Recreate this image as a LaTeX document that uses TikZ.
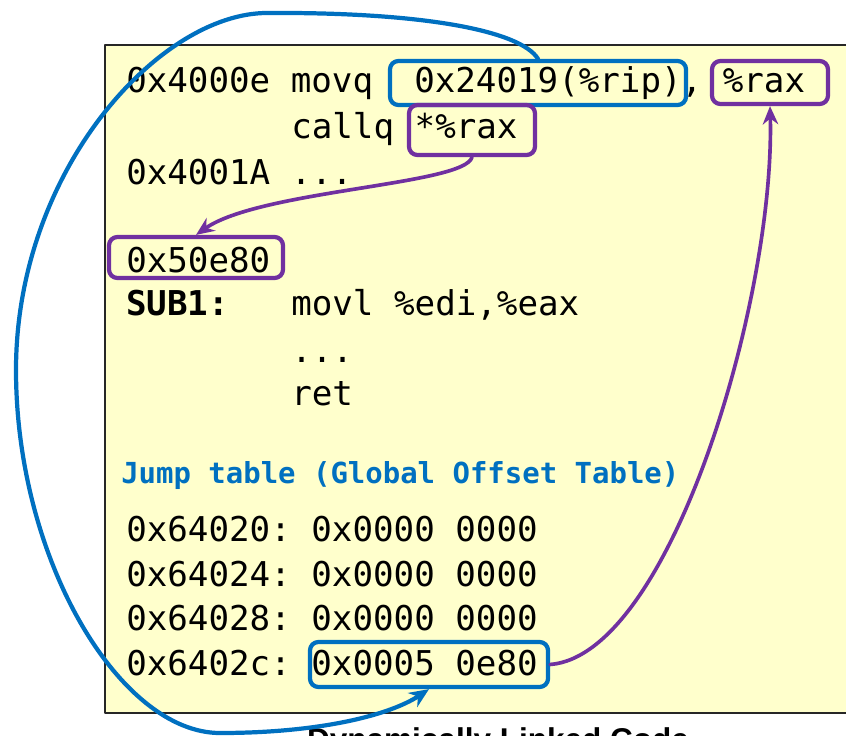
\documentclass[tikz,border=0pt]{standalone}
\usepackage{fontspec}
\setmainfont{Liberation Sans}
\setmonofont{DejaVu Sans Mono}
\usetikzlibrary{arrows.meta}
\definecolor{gotblue}{HTML}{0070C0}
\definecolor{callpurple}{HTML}{7030A0}
\definecolor{codebg}{HTML}{FFFFCC}
\tikzset{
  code/.style={anchor=base west, inner sep=0pt, font=\fontsize{24.3}{29}\selectfont\ttfamily},
  tablehead/.style={anchor=base west, inner sep=0pt, text=gotblue, font=\fontsize{20.6}{25}\selectfont\ttfamily\bfseries},
  bluebox/.style={draw=gotblue, line width=3pt, rounded corners=6pt, inner sep=0pt},
  purplebox/.style={draw=callpurple, line width=3pt, rounded corners=6pt, inner sep=0pt},
  bluelink/.style={draw=gotblue, line width=3pt, -{Stealth[length=14pt, width=12pt]}},
  purplelink/.style={draw=callpurple, line width=2.6pt, -{Stealth[length=13pt, width=11pt]}}
}
\begin{document}
\begin{tikzpicture}[x=0.025cm, y=-0.025cm, line join=round, line cap=round]
\useasboundingbox (0,0) rectangle (846,735);
% code area
\draw[fill=codebg, draw=black!85, line width=1.4pt] (105,45) rectangle (900,713);
\node[font=\fontsize{22.4}{27}\selectfont\bfseries, anchor=base] (caption) at (498,750) {Dynamically Linked Code};
% caller
\node[code] (movq) at (126,93) {0x4000e movq~~0x24019(\%rip), \%rax};
\node[code] (callq) at (291,139) {callq *\%rax};
\node[code] (next) at (126,184) {0x4001A ...};
% callee
\node[code] (addr) at (126,272) {0x50e80};
\node[code] (sublabel) at (126,315) {\bfseries SUB1:};
\node[code] (movl) at (291,315) {movl \%edi,\%eax};
\node[code] (dots) at (291,362) {...};
\node[code] (ret) at (291,405) {ret};
% jump table
\node[tablehead] (head) at (121,483) {Jump table (Global Offset Table)};
\foreach \a/\y in {64020/541, 64024/586, 64028/630}
  \node[code] (t\a) at (126,\y) {0x\a: 0x0000 0000};
\node[code] (t6402c) at (126,675) {0x6402c: 0x0005 0e80};
% boxes
\node[bluebox, minimum width=7.4cm, minimum height=1.1cm] (rip) at (538,83) {};
\node[purplebox, minimum width=2.9cm, minimum height=1.075cm] (rax) at (770,82.5) {};
\node[purplebox, minimum width=3.15cm, minimum height=1.25cm] (call) at (472,130) {};
\node[purplebox, minimum width=4.35cm, minimum height=1.025cm] (sub) at (196,257.5) {};
\node[bluebox, minimum width=5.95cm, minimum height=1.125cm] (got) at (429,664.5) {};
% links
\draw[bluelink] (rip.north) .. controls (520,30) and (420,12) .. (267,13)
  .. controls (160,13) and (16,170) .. (16,370)
  .. controls (16,560) and (120,733) .. (220,733)
  .. controls (320,733) and (390,715) .. (got.south);
\draw[purplelink] (call.south) .. controls (465,185) and (260,190) .. (sub.north);
\draw[purplelink] (got.east) .. controls (670,655) and (775,300) .. (rax.south);
\end{tikzpicture}
\end{document}
